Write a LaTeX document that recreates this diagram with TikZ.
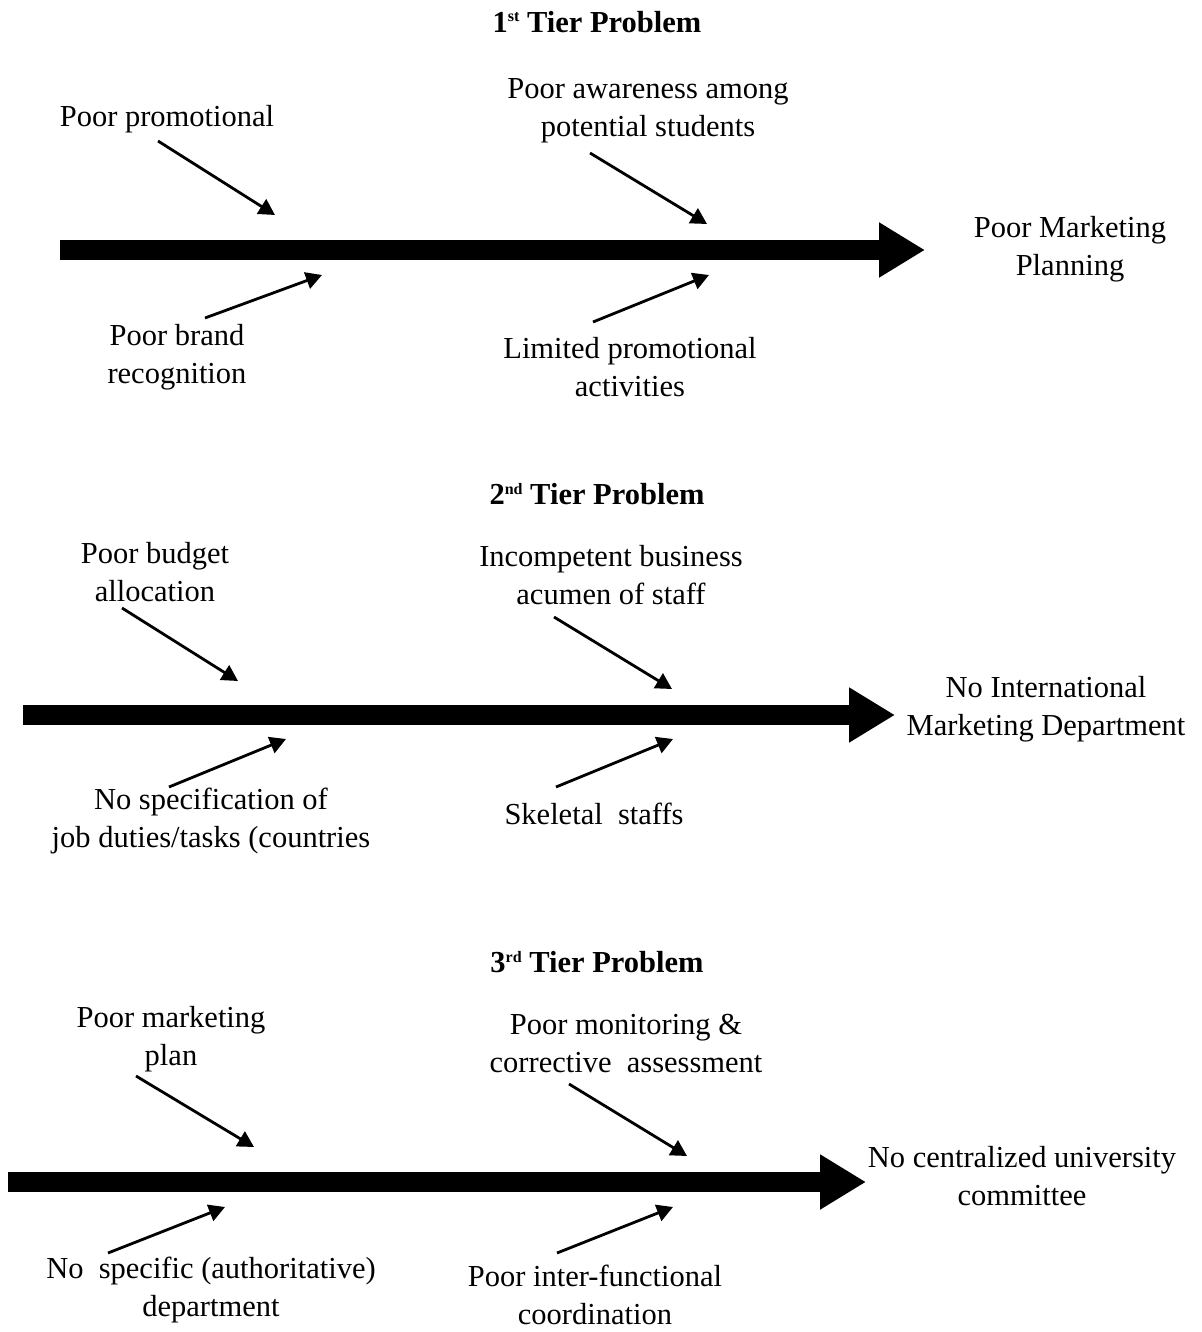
\documentclass[tikz,border=0pt]{standalone}
\usepackage{fontspec}
\setmainfont{Liberation Serif}
\usetikzlibrary{arrows.meta}
\newcommand{\tiersup}[1]{\raisebox{0.75ex}{\fontsize{16}{16}\selectfont #1}}
\begin{document}
\begin{tikzpicture}[x=1pt,y=-1pt,
  lbl/.style={align=center,inner sep=0pt,font=\fontsize{30.5}{38}\selectfont},
  ttl/.style={align=center,inner sep=0pt,font=\fontsize{30.5}{38}\selectfont\bfseries},
  spine/.style={line width=20pt,-{Triangle[length=46pt,width=52pt]}},
  cause/.style={line width=2.8pt,-{Triangle[length=16pt,width=17pt]}}]
\useasboundingbox (0,0) rectangle (1201,1332);
\fill[white] (0,0) rectangle (1201,1332);

% ---------- Tier 1 ----------
\node[ttl] (t1) at (597,22) {1\tiersup{st} Tier Problem};
\coordinate (s1a) at (60,250);
\node[lbl] (e1) at (1070,249) {Poor Marketing\\Planning};
\coordinate (s1b) at (925,250);
\draw[spine] (s1a) -- (s1b);

\node[lbl] (c11) at (167,119) {Poor promotional};
\node[lbl] (c12) at (648,111) {Poor awareness among\\potential students};
\node[lbl] (c13) at (177,357) {Poor brand\\recognition};
\node[lbl] (c14) at (630,367) {Limited promotional\\activities};
\coordinate (a11s) at (158,141); \coordinate (a11t) at (275,215);
\coordinate (a12s) at (590,153); \coordinate (a12t) at (707,224);
\coordinate (a13s) at (205,318); \coordinate (a13t) at (322,275);
\coordinate (a14s) at (593,322); \coordinate (a14t) at (709,275);
\draw[cause] (a11s) -- (a11t);
\draw[cause] (a12s) -- (a12t);
\draw[cause] (a13s) -- (a13t);
\draw[cause] (a14s) -- (a14t);

% ---------- Tier 2 ----------
\node[ttl] (t2) at (597,494) {2\tiersup{nd} Tier Problem};
\coordinate (s2a) at (23,715);
\coordinate (s2b) at (895,715);
\draw[spine] (s2a) -- (s2b);
\node[lbl] (e2) at (1046,709) {No International\\Marketing Department};

\node[lbl] (c21) at (155,572) {Poor budget\\allocation};
\node[lbl] (c22) at (611,575) {Incompetent business\\acumen of staff};
\node[lbl] (c23) at (211,821) {No specification of\\job duties/tasks (countries};
\node[lbl] (c24) at (594,814) {Skeletal\ \ staffs};
\coordinate (a21s) at (122,608); \coordinate (a21t) at (238,681);
\coordinate (a22s) at (554,617); \coordinate (a22t) at (672,689);
\coordinate (a23s) at (169,787); \coordinate (a23t) at (286,739);
\coordinate (a24s) at (556,787); \coordinate (a24t) at (673,739);
\draw[cause] (a21s) -- (a21t);
\draw[cause] (a22s) -- (a22t);
\draw[cause] (a23s) -- (a23t);
\draw[cause] (a24s) -- (a24t);

% ---------- Tier 3 ----------
\node[ttl] (t3) at (597,962) {3\tiersup{rd} Tier Problem};
\coordinate (s3a) at (8,1182);
\coordinate (s3b) at (866,1182);
\draw[spine] (s3a) -- (s3b);
\node[lbl] (e3) at (1022,1176) {No centralized university\\committee};

\node[lbl] (c31) at (171,1039) {Poor marketing\\plan};
\node[lbl] (c32) at (626,1043) {Poor monitoring \&\\corrective\ \ assessment};
\node[lbl] (c33) at (211,1290) {No\ \ specific (authoritative)\\department};
\node[lbl] (c34) at (595,1295) {Poor inter-functional\\coordination};
\coordinate (a31s) at (136,1076); \coordinate (a31t) at (254,1147);
\coordinate (a32s) at (569,1084); \coordinate (a32t) at (687,1156);
\coordinate (a33s) at (108,1253); \coordinate (a33t) at (225,1207);
\coordinate (a34s) at (557,1253); \coordinate (a34t) at (673,1207);
\draw[cause] (a31s) -- (a31t);
\draw[cause] (a32s) -- (a32t);
\draw[cause] (a33s) -- (a33t);
\draw[cause] (a34s) -- (a34t);
\end{tikzpicture}
\end{document}
